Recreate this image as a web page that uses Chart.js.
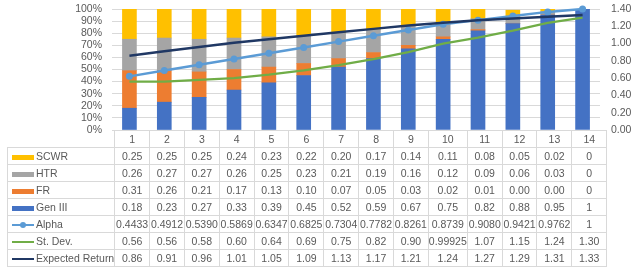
<!DOCTYPE html>
<html>
<head>
<meta charset="utf-8">
<script src="https://cdn.jsdelivr.net/npm/chart.js@4"></script>
<style>
  html, body { margin: 0; padding: 0; background: #fff; }
  #wrap { position: relative; width: 644px; height: 277px; overflow: hidden; }
  #chart { position: absolute; left: 0; top: 0; }
  #tbl {
    position: absolute; left: 7px; top: 130px;
    border-collapse: collapse; table-layout: fixed;
    font-family: "Liberation Sans Narrow", "Liberation Sans", sans-serif;
    font-size: 10.5px; line-height: 12px; color: #595959;
  }
  #tbl td { border: 1px solid #d9d9d9; height: 16px; padding: 0; text-align: center; white-space: nowrap; overflow: visible; }
  #tbl td.key { text-align: left; padding-left: 4px; }
  #tbl tr.head td.blank { border: none; }
  .sw { display: inline-block; width: 22px; vertical-align: middle; margin-right: 2px; position: relative; }
  .dot { position: absolute; left: 8px; top: -2px; width: 6px; height: 6px; border-radius: 50%; }
</style>
</head>
<body>
<div id="wrap">
  <canvas id="chart" width="644" height="140"></canvas>
  <table id="tbl"></table>
</div>
<script>
// values as shown in the data table
const categories = ['1', '2', '3', '4', '5', '6', '7', '8', '9', '10', '11', '12', '13', '14'];
const scwr = ['0.25', '0.25', '0.25', '0.24', '0.23', '0.22', '0.20', '0.17', '0.14', '0.11', '0.08', '0.05', '0.02', '0'];
const htr = ['0.26', '0.27', '0.27', '0.26', '0.25', '0.23', '0.21', '0.19', '0.16', '0.12', '0.09', '0.06', '0.03', '0'];
const fr = ['0.31', '0.26', '0.21', '0.17', '0.13', '0.10', '0.07', '0.05', '0.03', '0.02', '0.01', '0.00', '0.00', '0'];
const gen3 = ['0.18', '0.23', '0.27', '0.33', '0.39', '0.45', '0.52', '0.59', '0.67', '0.75', '0.82', '0.88', '0.95', '1'];
const alpha = ['0.4433', '0.4912', '0.5390', '0.5869', '0.6347', '0.6825', '0.7304', '0.7782', '0.8261', '0.8739', '0.9080', '0.9421', '0.9762', '1'];
const stDev = ['0.56', '0.56', '0.58', '0.60', '0.64', '0.69', '0.75', '0.82', '0.90', '0.99925', '1.07', '1.15', '1.24', '1.30'];
const expReturn = ['0.86', '0.91', '0.96', '1.01', '1.05', '1.09', '1.13', '1.17', '1.21', '1.24', '1.27', '1.29', '1.31', '1.33'];

const colors = {
    scwr: '#FFC000',
    htr: '#A5A5A5',
    fr: '#ED7D31',
    gen3: '#4472C4',
    alpha: '#5B9BD5',
    stDev: '#70AD47',
    expReturn: '#203864'
};

const num = arr => arr.map(Number);

function bar(label, values, color) {
    return {
        type: 'bar', label: label, data: num(values), backgroundColor: color,
        stack: 'mix', yAxisID: 'y', order: 2,
        barThickness: 14
    };
}

const data = {
    labels: categories,
    datasets: [
        {
            type: 'line', label: 'Expected Return', data: num(expReturn), yAxisID: 'y1',
            borderColor: colors.expReturn, borderWidth: 2.5, pointRadius: 0, order: 0
        },
        {
            type: 'line', label: 'St. Dev.', data: num(stDev), yAxisID: 'y1',
            borderColor: colors.stDev, borderWidth: 2.25, pointRadius: 0, order: 1
        },
        {
            type: 'line', label: 'Alpha', data: num(alpha), yAxisID: 'y', stack: 'alpha',
            borderColor: colors.alpha, backgroundColor: colors.alpha, borderWidth: 2.5,
            pointRadius: 3.5, pointBorderWidth: 0, order: 0.5, clip: 6
        },
        bar('Gen III', gen3, colors.gen3),
        bar('FR', fr, colors.fr),
        bar('HTR', htr, colors.htr),
        bar('SCWR', scwr, colors.scwr)
    ]
};

const tickFont = { family: 'Liberation Sans', size: 10.5 };

// fixed axis widths, no extra label padding so the plot area lines up with the table
function fitY(width) {
    return s => {
        s.width = width;
        s.paddingTop = 0;
        s.paddingBottom = 0;
    };
}

const config = {
    data,
    options: {
        responsive: false,
        animation: false,
        layout: { autoPadding: false, padding: { top: 9, bottom: 10, left: 0, right: 0 } },
        plugins: { legend: { display: false }, tooltip: { enabled: false } },
        scales: {
            x: { display: false, stacked: true, offset: true },
            y: {
                stacked: true, min: 0, max: 1,
                ticks: {
                    stepSize: 0.1, autoSkip: false, color: '#595959', font: tickFont, padding: 10,
                    callback: v => Math.round(v * 100) + '%'
                },
                grid: { color: '#d9d9d9', drawTicks: false },
                border: { display: false },
                afterFit: fitY(112)
            },
            y1: {
                position: 'right', min: 0, max: 1.4,
                ticks: {
                    stepSize: 0.2, autoSkip: false, color: '#595959', font: tickFont, padding: 11,
                    callback: v => v.toFixed(2)
                },
                grid: { display: false, drawTicks: false },
                border: { display: false },
                afterFit: fitY(44)
            }
        }
    }
};

var myChart = new Chart(document.getElementById('chart'), config);

// data table under the plot
const rows = [
    ['SCWR', scwr, 'bar', colors.scwr],
    ['HTR', htr, 'bar', colors.htr],
    ['FR', fr, 'bar', colors.fr],
    ['Gen III', gen3, 'bar', colors.gen3],
    ['Alpha', alpha, 'dot', colors.alpha],
    ['St. Dev.', stDev, 'line', colors.stDev],
    ['Expected Return', expReturn, 'line', colors.expReturn]
];

const area = myChart.chartArea;
const colW = (area.right - area.left) / categories.length;
const tbl = document.getElementById('tbl');
tbl.style.top = Math.round(area.bottom) + 'px';
let html = '<colgroup><col style="width:' + (area.left - 7) + 'px">';
categories.forEach(() => { html += '<col style="width:' + colW + 'px">'; });
html += '</colgroup><tr class="head"><td class="blank"></td>';
categories.forEach(c => { html += '<td>' + c + '</td>'; });
html += '</tr>';
rows.forEach(r => {
    let h = r[2] === 'bar' ? 5 : 2.5;
    let key = '<span class="sw" style="height:' + h + 'px;background:' + r[3] + '">';
    if (r[2] === 'dot') key += '<span class="dot" style="background:' + r[3] + '"></span>';
    key += '</span>';
    html += '<tr><td class="key">' + key + r[0] + '</td>';
    r[1].forEach(v => { html += '<td>' + v + '</td>'; });
    html += '</tr>';
});
tbl.innerHTML = html;
</script>
</body>
</html>
